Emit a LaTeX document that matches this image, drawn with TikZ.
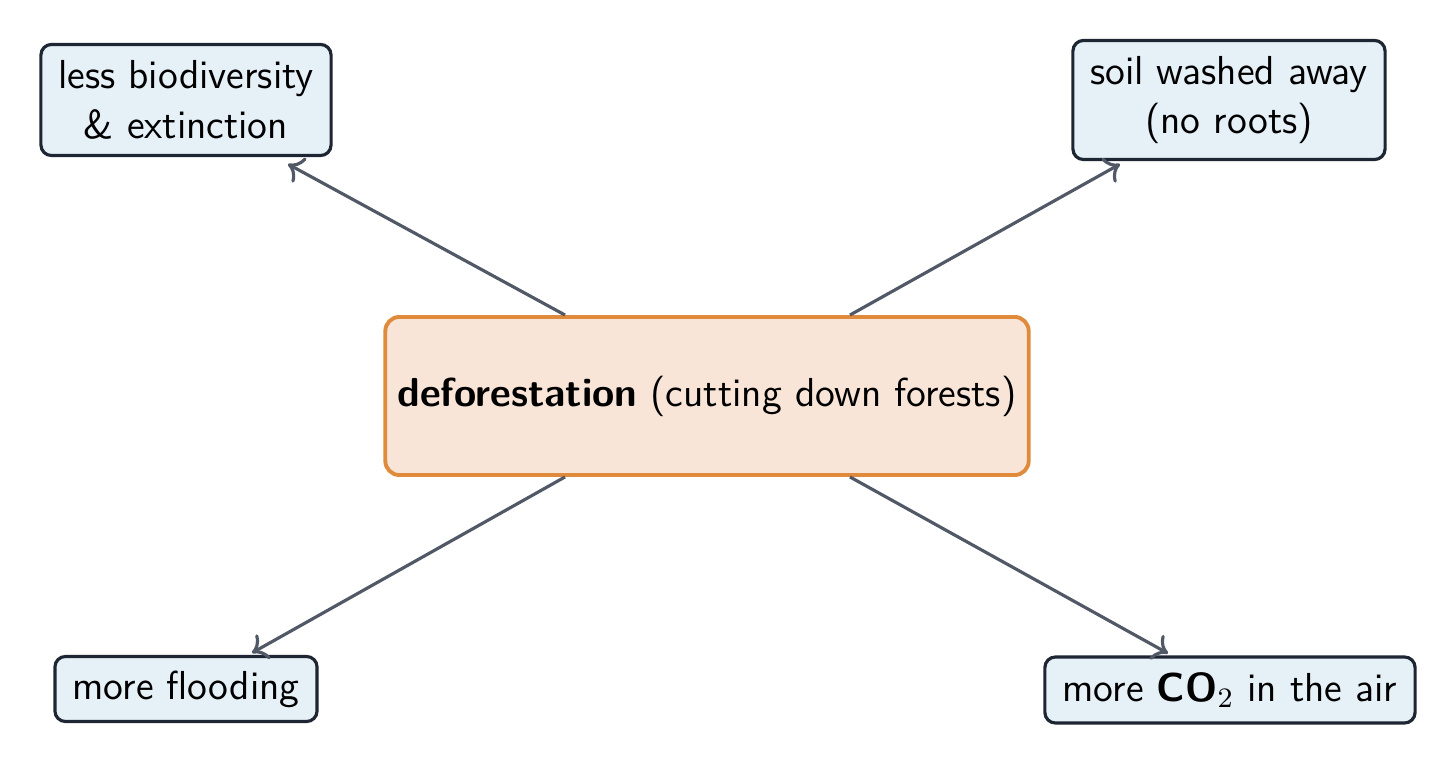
\documentclass[tikz,border=0pt]{standalone}
\renewcommand{\familydefault}{\sfdefault}
\usetikzlibrary{calc,arrows.meta}
\definecolor{cfill}{HTML}{F8E5D7}
\definecolor{cdraw}{HTML}{E08A3C}
\definecolor{efill}{HTML}{E6F0F7}
\definecolor{edraw}{HTML}{1E2533}
\definecolor{arr}{HTML}{525966}
\begin{document}
\begin{tikzpicture}[x=0.01cm,y=-0.01cm,
  eff/.style={draw=edraw,fill=efill,line width=0.9pt,rounded corners=3pt,align=center,font=\fontsize{11.5}{14}\selectfont,inner sep=0pt},
  cen/.style={draw=cdraw,fill=cfill,line width=1.1pt,rounded corners=4pt,minimum width=6.43cm,minimum height=1.58cm,font=\fontsize{11.5}{14}\selectfont},
  ar/.style={draw=arr,line width=0.9pt,-{To[length=4pt,width=8pt]}}]
\useasboundingbox (0,0) rectangle (1456,767);
\node[cen] (c) at (707,396) {\textbf{deforestation} (cutting down forests)};
\node[eff,minimum width=2.9cm,minimum height=1.11cm] (tl) at (186,100) {less biodiversity\\\& extinction};
\node[eff,minimum width=3.12cm,minimum height=1.19cm] (tr) at (1229,100) {soil washed away\\(no roots)};
\node[eff,minimum width=2.62cm,minimum height=0.65cm] (bl) at (186,689) {more flooding};
\node[eff,minimum width=3.7cm,minimum height=0.66cm] (br) at (1230,690) {more \textbf{CO}$_2$ in the air};
\coordinate (a1) at ($(c.north)+(-142,0)$);
\coordinate (a2) at ($(c.north)+(143,0)$);
\coordinate (a3) at ($(c.south)+(-142,0)$);
\coordinate (a4) at ($(c.south)+(143,0)$);
\coordinate (e1) at ($(tl.south)+(102,7)$);
\coordinate (e2) at ($(tr.south)+(-109,3)$);
\coordinate (e3) at ($(bl.north)+(66,-2)$);
\coordinate (e4) at ($(br.north)+(-62,-2)$);
\draw[ar] (a1) -- (e1);
\draw[ar] (a2) -- (e2);
\draw[ar] (a3) -- (e3);
\draw[ar] (a4) -- (e4);
\end{tikzpicture}
\end{document}
